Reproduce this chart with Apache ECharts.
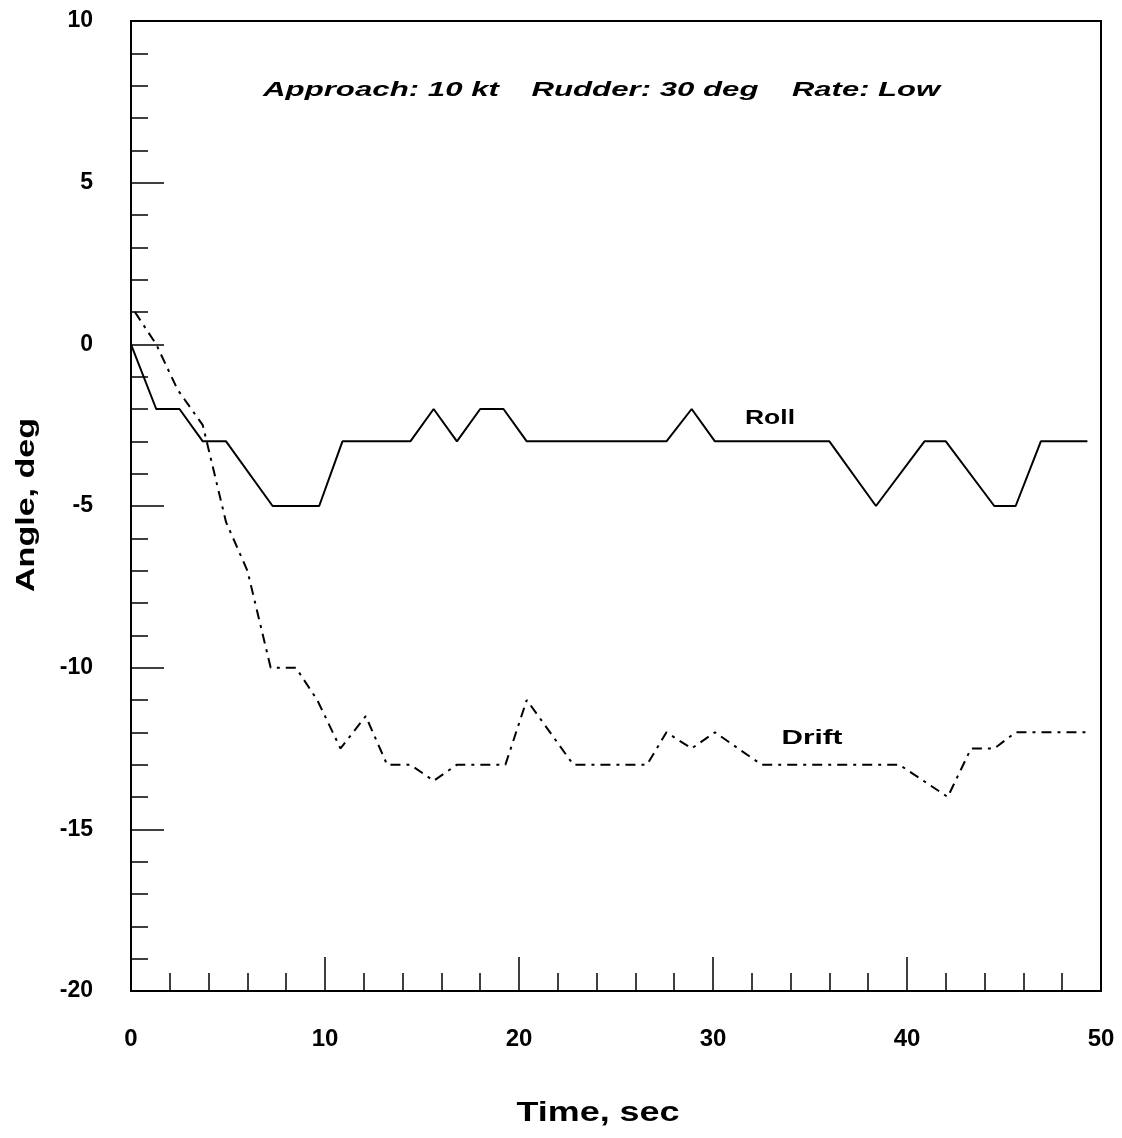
<!DOCTYPE html>
<html>
<head>
<meta charset="utf-8">
<script src="https://cdn.jsdelivr.net/npm/echarts@6/dist/echarts.min.js"></script>
<style>
  html, body { margin: 0; padding: 0; background: #fff; }
  #main { width: 1122px; height: 1138px; }
</style>
</head>
<body>
<div id="main"></div>
<script>
// roll angle, solid line
var rollTime  = [0, 1.3, 2.5, 3.7, 4.9, 7.3, 9.7, 10.9, 14.4, 15.6, 16.8, 18.0, 19.2, 20.4, 27.6, 28.9, 30.1, 36.0, 38.4, 40.9, 42.0, 44.5, 45.6, 46.9, 49.3];
var rollAngle = [0, -2, -2, -3, -3, -5, -5, -3, -3, -2, -3, -2, -2, -3, -3, -2, -3, -3, -5, -3, -3, -5, -5, -3, -3];

// drift angle, dash-dot line
var driftTime  = [0.2, 1.3, 2.4, 3.7, 4.9, 6.0, 7.2, 8.5, 9.6, 10.8, 12.1, 13.2, 14.4, 15.6, 16.8, 19.3, 20.4, 22.8, 26.6, 27.6, 28.9, 30.1, 32.5, 39.6, 42.1, 43.3, 44.5, 45.6, 49.3];
var driftAngle = [1, 0, -1.4, -2.5, -5.5, -7, -10, -10, -11, -12.5, -11.5, -13, -13, -13.5, -13, -13, -11, -13, -13, -12, -12.5, -12, -13, -13, -14, -12.5, -12.5, -12, -12];

var xTicks = [0, 10, 20, 30, 40, 50];
var yTicks = [-20, -15, -10, -5, 0, 5, 10];

function zip(a, b) {
    var out = [];
    for (var i = 0; i < a.length; i++) out.push([a[i], b[i]]);
    return out;
}

// stretch text to the width it has in the picture (the original uses wide letter spacing)
var measureCtx = document.createElement('canvas').getContext('2d');
function stretchedText(str, font, cx, cy, width, rot) {
    measureCtx.font = font;
    var w = measureCtx.measureText(str).width;
    return {
        type: 'text',
        x: cx, y: cy,
        rotation: rot || 0,
        scaleX: width / w,
        style: {
            text: str, font: font, fill: '#000',
            align: 'center', verticalAlign: 'middle',
            textAlign: 'center', textVerticalAlign: 'middle'
        }
    };
}

var myChart = echarts.init(document.getElementById('main'));
var option = {
    backgroundColor: '#fff',
    animation: false,
    grid: {
        left: 131, top: 21, width: 970, height: 970,
        outerBoundsMode: 'none',
        show: true,
        borderColor: '#000',
        borderWidth: 2
    },
    xAxis: {
        type: 'value',
        min: xTicks[0], max: xTicks[xTicks.length - 1], interval: 10,
        splitLine: { show: false },
        axisLine: { show: true, onZero: false, lineStyle: { color: '#000', width: 2 } },
        axisTick: { inside: true, length: 34, lineStyle: { color: '#000', width: 1.5 } },
        minorTick: { show: true, splitNumber: 5, length: 18, lineStyle: { color: '#000', width: 1.5 } },
        axisLabel: {
            margin: 36, color: '#000', fontFamily: 'Liberation Sans', fontWeight: 'bold', fontSize: 24,
            showMinLabel: true, showMaxLabel: true
        }
    },
    yAxis: {
        type: 'value',
        min: yTicks[0], max: yTicks[yTicks.length - 1], interval: 5,
        splitLine: { show: false },
        axisLine: { show: true, onZero: false, lineStyle: { color: '#000', width: 2 } },
        axisTick: { inside: true, length: 33, lineStyle: { color: '#000', width: 1.5 } },
        minorTick: { show: true, splitNumber: 5, length: 17, lineStyle: { color: '#000', width: 1.5 } },
        axisLabel: {
            margin: 38, color: '#000', fontFamily: 'Liberation Sans', fontWeight: 'bold', fontSize: 23,
            showMinLabel: true, showMaxLabel: true
        }
    },
    graphic: [
        stretchedText('Approach: 10 kt', 'italic bold 21px "Liberation Sans"', 381, 90, 236),
        stretchedText('Rudder: 30 deg', 'italic bold 21px "Liberation Sans"', 645, 90, 227),
        stretchedText('Rate: Low', 'italic bold 21px "Liberation Sans"', 866, 90, 148),
        stretchedText('Roll', 'bold 20px "Liberation Sans"', 770, 418, 50),
        stretchedText('Drift', 'bold 20px "Liberation Sans"', 812, 738, 61),
        stretchedText('Time, sec', 'bold 27px "Liberation Sans"', 598, 1114, 163),
        stretchedText('Angle, deg', 'bold 26px "Liberation Sans"', 27, 505, 174, Math.PI / 2)
    ],
    series: [{
        name: 'Roll',
        type: 'line',
        data: zip(rollTime, rollAngle),
        showSymbol: false,
        lineStyle: { color: '#000', width: 2 }
    }, {
        name: 'Drift',
        type: 'line',
        data: zip(driftTime, driftAngle),
        showSymbol: false,
        lineStyle: { color: '#000', width: 2, type: [10, 6, 3, 6] }
    }]
};
myChart.setOption(option);
</script>
</body>
</html>
